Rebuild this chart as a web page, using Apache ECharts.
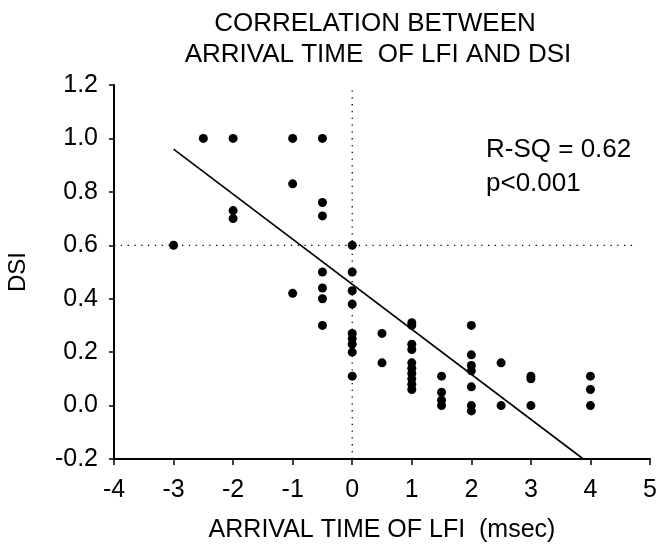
<!DOCTYPE html>
<html><head><meta charset="utf-8">
<script src="https://cdn.jsdelivr.net/npm/echarts@6/dist/echarts.min.js"></script>
<style>html,body{margin:0;padding:0;background:#fff}#c{width:658px;height:544px}</style>
</head><body><div id="c"></div>
<script>
var titleLines = ['CORRELATION BETWEEN', 'ARRIVAL TIME  OF LFI AND DSI'];
var xAxisName = 'ARRIVAL TIME OF LFI  (msec)';
var yAxisName = 'DSI';
var annotation = ['R-SQ = 0.62', 'p<0.001'];
var xTicks = [-4, -3, -2, -1, 0, 1, 2, 3, 4, 5];
var yTicks = [-0.2, 0.0, 0.2, 0.4, 0.6, 0.8, 1.0, 1.2];
var points = [
  [-3, 0.60],
  [-2.5, 1.00],
  [-2, 1.00], [-2, 0.73], [-2, 0.70],
  [-1, 1.00], [-1, 0.83], [-1, 0.42],
  [-0.5, 1.00], [-0.5, 0.76], [-0.5, 0.71], [-0.5, 0.50], [-0.5, 0.44], [-0.5, 0.40], [-0.5, 0.30],
  [0, 0.60], [0, 0.50], [0, 0.43], [0, 0.38], [0, 0.27], [0, 0.25], [0, 0.23], [0, 0.20], [0, 0.11],
  [0.5, 0.27], [0.5, 0.16],
  [1, 0.31], [1, 0.30], [1, 0.23], [1, 0.21], [1, 0.16], [1, 0.14], [1, 0.12], [1, 0.10], [1, 0.08], [1, 0.06],
  [1.5, 0.11], [1.5, 0.05], [1.5, 0.02], [1.5, 0.00],
  [2, 0.30], [2, 0.19], [2, 0.15], [2, 0.13], [2, 0.07], [2, 0.00], [2, -0.02],
  [2.5, 0.16], [2.5, 0.00],
  [3, 0.11], [3, 0.10], [3, 0.00],
  [4, 0.11], [4, 0.06], [4, 0.00]
];
var regressionLine = [[-3, 0.96], [3.88, -0.2]];
var hRefLine = [[-4, 0.6], [4.7, 0.6]];
var vRefLine = [[0, -0.2], [0, 1.18]];

var FONT = 'Liberation Sans, Arial, sans-serif';
var titleStyle = { fontFamily: FONT, fontSize: 26, fontWeight: 'normal', color: '#000' };
var chart = echarts.init(document.getElementById('c'));
chart.setOption({
  backgroundColor: '#fff',
  animation: false,
  title: [
    { text: titleLines[0], left: 375, top: 11, textAlign: 'center', padding: 0, textStyle: titleStyle },
    { text: titleLines[1], left: 378, top: 42, textAlign: 'center', padding: 0, textStyle: titleStyle }
  ],
  grid: { left: 114, right: 8, top: 85, bottom: 85, outerBoundsMode: 'none', containLabel: false },
  xAxis: {
    type: 'value', min: -4, max: 5, interval: 1,
    name: xAxisName, nameLocation: 'middle', nameGap: 59,
    nameTextStyle: { fontFamily: FONT, fontSize: 25, color: '#000' },
    axisLine: { show: true, onZero: false, lineStyle: { color: '#000', width: 2 } },
    axisTick: { show: true, inside: false, length: 6, lineStyle: { color: '#000', width: 1.5 } },
    axisLabel: { fontFamily: FONT, fontSize: 25, color: '#000', margin: 19,
      formatter: function (v) { return xTicks.indexOf(v) >= 0 ? String(v) : ''; } },
    splitLine: { show: false }
  },
  yAxis: {
    type: 'value', min: -0.2, max: 1.2, interval: 0.2,
    name: yAxisName, nameLocation: 'middle', nameGap: 84, nameRotate: 90,
    nameTextStyle: { fontFamily: FONT, fontSize: 24, color: '#000' },
    axisLine: { show: true, onZero: false, lineStyle: { color: '#000', width: 2 } },
    axisTick: { show: true, inside: false, length: 5, lineStyle: { color: '#000', width: 1.5 } },
    axisLabel: { fontFamily: FONT, fontSize: 25, color: '#000', margin: 16,
      formatter: function (v) {
        var r = Math.round(v * 10) / 10;
        for (var i = 0; i < yTicks.length; i++) if (Math.abs(yTicks[i] - r) < 1e-6) return r.toFixed(1);
        return '';
      } },
    splitLine: { show: false }
  },
  graphic: [{
    type: 'text', left: 486, top: 133,
    style: { text: annotation.join('\n'), fontFamily: FONT, fontSize: 26, fill: '#000', lineHeight: 34 }
  }],
  series: [
    { type: 'line', data: hRefLine, symbol: 'none', silent: true,
      lineStyle: { color: '#000', width: 1.3, type: [1.3, 5.5] } },
    { type: 'line', data: vRefLine, symbol: 'none', silent: true,
      lineStyle: { color: '#000', width: 1.3, type: [1.3, 5.5] } },
    { type: 'line', data: regressionLine, symbol: 'none', silent: true,
      lineStyle: { color: '#000', width: 1.6 } },
    { type: 'scatter', data: points, symbol: 'circle', symbolSize: 9,
      itemStyle: { color: '#000', opacity: 1 } }
  ]
});
</script></body></html>
